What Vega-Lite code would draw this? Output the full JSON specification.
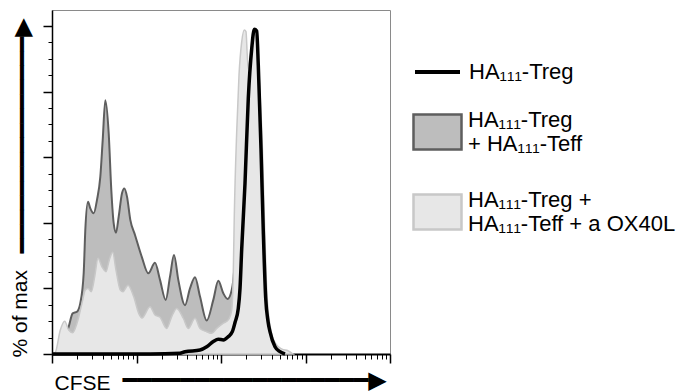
{
  "$schema": "https://vega.github.io/schema/vega-lite/v6.json",
  "width": 338,
  "height": 344,
  "autosize": {"type": "none"},
  "padding": {"left": 52, "top": 10, "right": 296, "bottom": 37},
  "background": "white",
  "datasets": {
    "teff": [
      {"cfse": 10, "pct": 0}, {"cfse": 12.43, "pct": 1}, {"cfse": 14.26, "pct": 5}, {"cfse": 15.76, "pct": 8.3},
      {"cfse": 17.58, "pct": 12.4}, {"cfse": 19.76, "pct": 12.9}, {"cfse": 21.62, "pct": 15.5}, {"cfse": 23.72, "pct": 24.7},
      {"cfse": 24.78, "pct": 37.8}, {"cfse": 26.67, "pct": 46.4}, {"cfse": 28.4, "pct": 44.4}, {"cfse": 31.15, "pct": 42.9},
      {"cfse": 34.08, "pct": 47}, {"cfse": 37.29, "pct": 54}, {"cfse": 39.81, "pct": 65.2}, {"cfse": 42.74, "pct": 77.4},
      {"cfse": 46.88, "pct": 67.3}, {"cfse": 50.33, "pct": 50}, {"cfse": 53.72, "pct": 39.8}, {"cfse": 57.19, "pct": 37},
      {"cfse": 61.56, "pct": 41.9}, {"cfse": 67.35, "pct": 49}, {"cfse": 71.7, "pct": 50.5}, {"cfse": 77.2, "pct": 48},
      {"cfse": 84.46, "pct": 40.9}, {"cfse": 95.98, "pct": 36.3}, {"cfse": 115.2, "pct": 29.7}, {"cfse": 137.9, "pct": 24.6},
      {"cfse": 165.5, "pct": 27.8}, {"cfse": 189.7, "pct": 22.6}, {"cfse": 221.6, "pct": 16.5}, {"cfse": 249.2, "pct": 23.6},
      {"cfse": 277.8, "pct": 30.2}, {"cfse": 312.4, "pct": 22.6}, {"cfse": 375, "pct": 14.9}, {"cfse": 429.6, "pct": 20},
      {"cfse": 492.5, "pct": 23.4}, {"cfse": 564.3, "pct": 17.5}, {"cfse": 677.3, "pct": 10.2}, {"cfse": 810.9, "pct": 16.5},
      {"cfse": 929, "pct": 22.3}, {"cfse": 1065, "pct": 18.5}, {"cfse": 1200, "pct": 16.8}, {"cfse": 1339, "pct": 19.5},
      {"cfse": 1425, "pct": 25}, {"cfse": 1589, "pct": 55}, {"cfse": 1772, "pct": 85}, {"cfse": 1923, "pct": 95},
      {"cfse": 2087, "pct": 85}, {"cfse": 2328, "pct": 90}, {"cfse": 2595, "pct": 88}, {"cfse": 2893, "pct": 70},
      {"cfse": 3141, "pct": 40}, {"cfse": 3408, "pct": 15}, {"cfse": 3800, "pct": 5}, {"cfse": 4477, "pct": 1},
      {"cfse": 5273, "pct": 0}
    ],
    "ox40l": [
      {"cfse": 10, "pct": 0}, {"cfse": 10.94, "pct": 0.5}, {"cfse": 12.54, "pct": 7.3}, {"cfse": 14.14, "pct": 10},
      {"cfse": 15.76, "pct": 7.3}, {"cfse": 17.58, "pct": 6.5}, {"cfse": 19.76, "pct": 9.4}, {"cfse": 22.65, "pct": 15.5},
      {"cfse": 24.78, "pct": 19.5}, {"cfse": 26.67, "pct": 20}, {"cfse": 29.18, "pct": 19}, {"cfse": 32.01, "pct": 23.6},
      {"cfse": 35.03, "pct": 29.2}, {"cfse": 39.06, "pct": 26.6}, {"cfse": 43.56, "pct": 25.1}, {"cfse": 47.65, "pct": 28.7},
      {"cfse": 52.28, "pct": 31}, {"cfse": 57.19, "pct": 25.6}, {"cfse": 64.33, "pct": 19.5}, {"cfse": 69.2, "pct": 19},
      {"cfse": 79.33, "pct": 21}, {"cfse": 92.66, "pct": 17.5}, {"cfse": 106.2, "pct": 12.4}, {"cfse": 116.2, "pct": 11},
      {"cfse": 144.5, "pct": 14.4}, {"cfse": 165.5, "pct": 11.9}, {"cfse": 189.7, "pct": 11.2}, {"cfse": 227.8, "pct": 7.8},
      {"cfse": 261, "pct": 11.4}, {"cfse": 299, "pct": 13.9}, {"cfse": 357.9, "pct": 10.9}, {"cfse": 410.2, "pct": 7.8},
      {"cfse": 492.5, "pct": 10.9}, {"cfse": 564.3, "pct": 7.8}, {"cfse": 677.3, "pct": 6.8}, {"cfse": 776.2, "pct": 6.3},
      {"cfse": 889.4, "pct": 7.8}, {"cfse": 1065, "pct": 9.4}, {"cfse": 1220, "pct": 10.4}, {"cfse": 1339, "pct": 13.4},
      {"cfse": 1398, "pct": 25}, {"cfse": 1437, "pct": 42.4}, {"cfse": 1534, "pct": 67.8}, {"cfse": 1633, "pct": 85},
      {"cfse": 1758, "pct": 95.2}, {"cfse": 1887, "pct": 98.8}, {"cfse": 1976, "pct": 98.3}, {"cfse": 2047, "pct": 91},
      {"cfse": 2104, "pct": 87}, {"cfse": 2204, "pct": 90}, {"cfse": 2360, "pct": 96}, {"cfse": 2526, "pct": 97.5},
      {"cfse": 2704, "pct": 92}, {"cfse": 2893, "pct": 80}, {"cfse": 3098, "pct": 62}, {"cfse": 3272, "pct": 40},
      {"cfse": 3503, "pct": 18}, {"cfse": 3906, "pct": 7}, {"cfse": 4477, "pct": 3}, {"cfse": 5273, "pct": 1.5},
      {"cfse": 6208, "pct": 1}, {"cfse": 7113, "pct": 0}
    ],
    "treg": [
      {"cfse": 10, "pct": 0}, {"cfse": 37, "pct": 0}, {"cfse": 144.5, "pct": 0}, {"cfse": 327.2, "pct": 0.2},
      {"cfse": 375, "pct": 0.7}, {"cfse": 564.3, "pct": 1.2}, {"cfse": 677.3, "pct": 2.2}, {"cfse": 810.9, "pct": 3.8},
      {"cfse": 929, "pct": 4.5}, {"cfse": 1065, "pct": 4.3}, {"cfse": 1220, "pct": 5.3}, {"cfse": 1361, "pct": 6.8},
      {"cfse": 1465, "pct": 9.6}, {"cfse": 1602, "pct": 13.9}, {"cfse": 1679, "pct": 20}, {"cfse": 1758, "pct": 32},
      {"cfse": 1923, "pct": 52}, {"cfse": 2104, "pct": 78}, {"cfse": 2308, "pct": 93}, {"cfse": 2478, "pct": 99},
      {"cfse": 2646, "pct": 98.5}, {"cfse": 2763, "pct": 88}, {"cfse": 2974, "pct": 62.7}, {"cfse": 3167, "pct": 37.3},
      {"cfse": 3381, "pct": 17}, {"cfse": 3599, "pct": 10}, {"cfse": 3800, "pct": 6.8}, {"cfse": 4357, "pct": 2.2},
      {"cfse": 4992, "pct": 0.7}, {"cfse": 5720, "pct": 0}
    ]
  },
  "layer": [
    {
      "data": {"name": "teff"},
      "mark": {"type": "area", "interpolate": "monotone", "strokeWidth": 2, "opacity": 1, "fillOpacity": 1},
      "encoding": {
        "x": {
          "field": "cfse", "type": "quantitative",
          "scale": {"type": "log", "domain": [10, 100000], "nice": false},
          "axis": {"orient": "bottom", "values": [10, 100, 1000, 10000, 100000], "tickSize": 9, "tickWidth": 1.5, "domainWidth": 2,
                   "title": "CFSE", "titleX": 2, "titleY": 35, "titleAlign": "left", "titleBaseline": "alphabetic", "titleAngle": 0}
        },
        "y": {
          "field": "pct", "type": "quantitative",
          "scale": {"domain": [0, 104.9], "nice": false, "zero": true},
          "axis": {"orient": "left", "values": [0, 20, 40, 60, 80, 100], "tickSize": 9, "tickWidth": 1.5, "domainWidth": 1.5,
                   "title": "% of max", "titleAngle": 270, "titleX": -25.3, "titleY": 347, "titleAlign": "left", "titleBaseline": "alphabetic"}
        },
        "fill": {
          "datum": "HA₁₁₁-Treg|+ HA₁₁₁-Teff", "type": "nominal",
          "scale": {"domain": ["HA₁₁₁-Treg|+ HA₁₁₁-Teff", "HA₁₁₁-Treg +|HA₁₁₁-Teff + a OX40L"], "range": ["#bdbdbd", "#e7e7e7"]},
          "legend": {
            "orient": "none", "legendX": 360, "legendY": 96.5, "title": null,
            "symbolType": "M-1,-0.73H1V0.73H-1Z", "symbolSize": 2304, "symbolStrokeWidth": 2.5, "symbolOpacity": 1,
            "labelExpr": "split(datum.label, '|')", "labelOffset": 5, "rowPadding": 31, "labelFontSize": 22, "labelBaseline": "bottom"
          }
        },
        "stroke": {
          "datum": "HA₁₁₁-Treg|+ HA₁₁₁-Teff", "type": "nominal",
          "scale": {"domain": ["HA₁₁₁-Treg|+ HA₁₁₁-Teff", "HA₁₁₁-Treg +|HA₁₁₁-Teff + a OX40L"], "range": ["#5e5e5e", "#c8c8c8"]},
          "legend": {
            "orient": "none", "legendX": 360, "legendY": 96.5, "title": null,
            "symbolType": "M-1,-0.73H1V0.73H-1Z", "symbolSize": 2304, "symbolStrokeWidth": 2.5, "symbolOpacity": 1,
            "labelExpr": "split(datum.label, '|')", "labelOffset": 5, "rowPadding": 31, "labelFontSize": 22, "labelBaseline": "bottom"
          }
        }
      }
    },
    {
      "data": {"name": "ox40l"},
      "mark": {"type": "area", "interpolate": "monotone", "strokeWidth": 1.5, "opacity": 1, "fillOpacity": 1},
      "encoding": {
        "x": {
          "field": "cfse", "type": "quantitative",
          "axis": {"orient": "bottom", "values": [20, 30, 40, 50, 60, 70, 80, 90, 200, 300, 400, 500, 600, 700, 800, 900, 2000, 3000, 4000, 5000, 6000, 7000, 8000, 9000, 20000, 30000, 40000, 50000, 60000, 70000, 80000, 90000],
                   "tickSize": 5, "tickWidth": 1, "domain": false,
                   "title": "━━━━━━━━━━━━━━━━━▶", "titleFont": "DejaVu Sans", "titleFontSize": 24,
                   "titleX": 70, "titleY": 33, "titleAlign": "left", "titleBaseline": "alphabetic", "titleAngle": 0}
        },
        "y": {
          "field": "pct", "type": "quantitative",
          "axis": {"orient": "left", "values": [5, 10, 15, 25, 30, 35, 45, 50, 55, 65, 70, 75, 85, 90, 95], "tickSize": 4, "tickWidth": 1, "domain": false,
                   "title": "━━━━━━━━━━━━━━━▶", "titleFont": "DejaVu Sans", "titleFontSize": 24,
                   "titleAngle": 270, "titleX": -22.2, "titleY": 243, "titleAlign": "left", "titleBaseline": "alphabetic"}
        },
        "fill": {"datum": "HA₁₁₁-Treg +|HA₁₁₁-Teff + a OX40L", "type": "nominal"},
        "stroke": {"datum": "HA₁₁₁-Treg +|HA₁₁₁-Teff + a OX40L", "type": "nominal"}
      }
    },
    {
      "data": {"name": "treg"},
      "mark": {"type": "line", "interpolate": "monotone", "strokeWidth": 3.5},
      "encoding": {
        "x": {"field": "cfse", "type": "quantitative", "axis": null},
        "y": {"field": "pct", "type": "quantitative", "axis": null},
        "color": {
          "datum": "HA₁₁₁-Treg", "type": "nominal",
          "scale": {"range": ["#000000"]},
          "legend": {
            "orient": "none", "legendX": 361, "legendY": 37.5, "title": null, "labelFontSize": 22,
            "symbolType": "stroke", "symbolSize": 2025, "symbolStrokeWidth": 4, "labelOffset": 7
          }
        }
      }
    }
  ],
  "resolve": {"axis": {"x": "independent", "y": "independent"}},
  "config": {
    "view": {"stroke": "#8a8a8a", "strokeWidth": 1},
    "axis": {"grid": false, "labels": false, "domainColor": "#000000", "tickColor": "#000000", "zindex": 1,
             "titleFont": "Liberation Sans", "titleFontSize": 21, "titleFontWeight": "normal", "titleColor": "#000000"},
    "legend": {"labelFont": "Liberation Sans", "labelFontSize": 21, "labelColor": "#000000", "labelLimit": 400, "padding": 0}
  }
}
